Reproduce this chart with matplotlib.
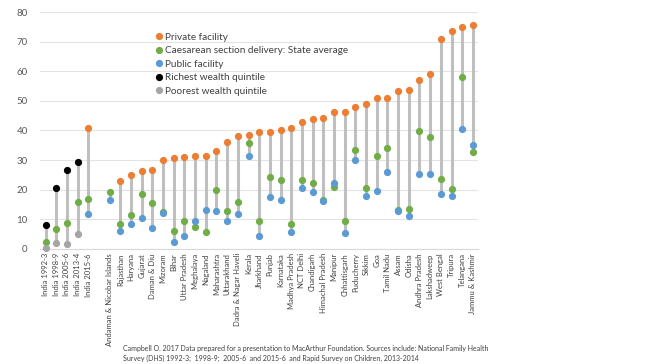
import numpy as np
import matplotlib
matplotlib.use("Agg")
import matplotlib.pyplot as plt
from matplotlib.lines import Line2D

nan = np.nan

categories = [
    "India 1992-3", "India 1998-9", "India 2005-6", "India 2013-4", "India 2015-6",
    "",
    "Andaman & Nicobar Islands", "Rajasthan", "Haryana", "Gujarat", "Daman & Diu",
    "Mizoram", "Bihar", "Uttar Pradesh", "Meghalaya", "Nagaland", "Maharashtra",
    "Uttarakhand", "Dadra & Nagar Haveli", "Kerala", "Jharkhand", "Punjab",
    "Karnataka", "Madhya Pradesh", "NCT Delhi", "Chandigarh", "Himachal Pradesh",
    "Manipur", "Chhattisgarh", "Puducherry", "Sikkim", "Goa", "Tamil Nadu",
    "Assam", "Odisha", "Andhra Pradesh", "Lakshadweep", "West Bengal", "Tripura",
    "Telangana", "Jammu & Kashmir",
]

private = [nan, nan, nan, nan, 40.7,
           nan,
           nan, 23.0, 25.1, 26.4, 26.7, 30.0, 30.7, 31.2, 31.3, 31.3, 33.0,
           36.2, 38.3, 38.5, 39.4, 39.5, 40.2, 40.7, 42.9, 44.0, 44.2,
           46.1, 46.3, 48.1, 49.1, 51.1, 51.1, 53.3, 53.6, 57.0, 59.1,
           70.8, 73.6, 74.8, 75.5]

state_avg = [2.5, 6.9, 8.9, 15.8, 16.9,
             nan,
             19.1, 8.4, 11.5, 18.4, 15.6, 12.6, 6.1, 9.3, 7.5, 5.7, 20.0,
             12.9, 15.9, 35.7, 9.6, 24.4, 23.4, 8.4, 23.4, 22.4, 16.7,
             20.8, 9.6, 33.5, 20.7, 31.3, 34.1, 13.3, 13.6, 39.8, 37.7,
             23.5, 20.4, 58.0, 32.9]

public = [nan, nan, nan, nan, 11.7,
          nan,
          16.6, 6.0, 8.3, 10.4, 7.2, 12.1, 2.4, 4.5, 9.5, 13.2, 12.9,
          9.3, 11.8, 31.3, 4.5, 17.7, 16.7, 5.7, 20.7, 19.4, 16.3,
          22.4, 5.5, 30.2, 17.8, 19.7, 26.1, 12.8, 11.2, 25.4, 25.4,
          18.7, 17.8, 40.5, 35.1]

richest = [8.2, 20.5, 26.5, 29.4] + [nan] * 37
poorest = [0.3, 2.0, 1.7, 5.0] + [nan] * 37

series = [
    ("Private facility", private, "#ED7D31"),
    ("Caesarean section delivery: State average", state_avg, "#70AD47"),
    ("Public facility", public, "#5B9BD5"),
    ("Richest wealth quintile", richest, "black"),
    ("Poorest wealth quintile", poorest, "#A5A5A5"),
]

plt.rcParams["font.family"] = ["Lato", "DejaVu Sans"]

fig = plt.figure(figsize=(6.48, 3.64), dpi=100)
ax = fig.add_axes([0.062, 0.316, 0.676, 0.651])

x = np.arange(len(categories))
table = np.array([s[1] for s in series], dtype=float)

# grey drop lines from highest to lowest value in each category
has_data = ~np.all(np.isnan(table), axis=0)
hi = np.nanmax(table[:, has_data], axis=0)
lo = np.nanmin(table[:, has_data], axis=0)
ax.vlines(x[has_data], lo, hi, color="#BFBFBF", lw=2.2, zorder=2)

for label, vals, color in series:
    ax.plot(x, vals, "o", color=color, markersize=5.2, label=label,
            zorder=3, clip_on=False, markeredgewidth=0)

ax.set_xlim(-0.5, len(categories) - 0.5)
ax.set_ylim(0, 80)
ax.set_yticks(range(0, 81, 10))
ax.yaxis.grid(True, color="#E3E3E3", lw=0.8)
ax.set_axisbelow(True)
for side in ["top", "right", "left"]:
    ax.spines[side].set_visible(False)
ax.spines["bottom"].set_color("#D9D9D9")
ax.tick_params(axis="y", length=0, labelsize=7, labelcolor="#595959", pad=9)
ax.tick_params(axis="x", length=0, pad=3)
ax.set_xticks(x)
ax.set_xticklabels(categories, rotation=90, fontsize=5.5, color="#404040")

handles = [Line2D([], [], ls="", marker="o", color=c, markersize=5.2,
                  markeredgewidth=0) for _, _, c in series]
ax.legend(handles, [s[0] for s in series], loc="upper left",
          bbox_to_anchor=(0.24, 0.95), frameon=False, fontsize=7.2,
          handletextpad=0.1, labelspacing=0.45, handlelength=1.0,
          labelcolor="#404040")

fig.text(0.19, 0.01,
         "Campbell O. 2017 Data prepared for a presentation to MacArthur Foundation. "
         "Sources include: National Family Health\n"
         "Survey (DHS) 1992-3;  1998-9;  2005-6  and 2015-6  and Rapid Survey on Children, 2013-2014",
         fontsize=5.0, color="#404040", linespacing=1.4)

fig.savefig("out.png", dpi=100)
